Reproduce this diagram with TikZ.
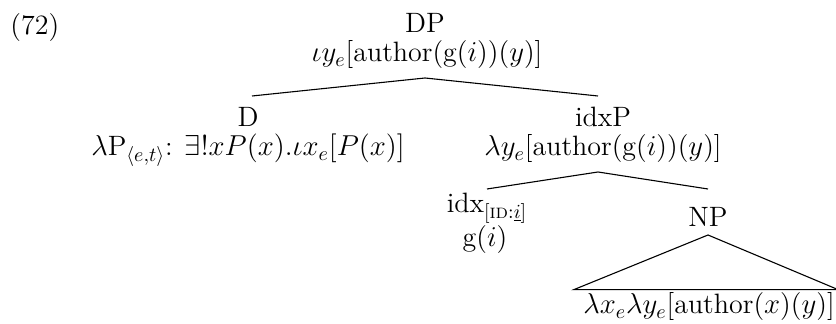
\documentclass[tikz,border=0pt]{standalone}
\usepackage{amsmath}
\usetikzlibrary{calc}
\begin{document}
\begin{tikzpicture}[x=0.5pt,y=-0.5pt,
  lbl/.style={inner sep=0pt, anchor=base, font=\fontsize{14}{16.5}\selectfont},
  edge/.style={line width=0.55pt}]
\useasboundingbox (0,0) rectangle (836,324);
\node[lbl, anchor=base west] (ex) at (10,35) {(72)};
% DP
\node[lbl] (dp) at (425,33) {DP};
\node[lbl] (dpsem) at (427,62) {$\iota y_e$[author(g($i$))($y$)]};
% D
\node[lbl] (d) at (248,127) {D};
\node[lbl] (dsem) at (248,156) {$\lambda$P$_{\langle e,t\rangle}$: $\exists!xP(x).\iota x_e[P(x)]$};
% idxP
\node[lbl] (idxp) at (603,127) {idxP};
\node[lbl] (idxpsem) at (603,156) {$\lambda y_e$[author(g($i$))($y$)]};
% idx
\node[lbl] (idx) at (487,213) {idx$_{\text{\fontsize{10}{12}\selectfont[\textsc{id}:$\underline{i}$]}}$};
\node[lbl] (idxsem) at (485,247) {g($i$)};
% NP
\node[lbl] (np) at (708,227) {NP};
\node[lbl] (npsem) at (709,314) {$\lambda x_e\lambda y_e$[author($x$)($y$)]};
% edges
\draw[edge] ($(d.base)+(4,-31)$) -- ($(dpsem.base)+(-2,16)$) -- ($(idxp.base)+(-5,-31)$);
\draw[edge] ($(idx.base)+(0,-24)$) -- ($(idxpsem.base)+(-5,16)$) -- ($(np.base)+(0,-38)$);
\draw[edge] ($(np.base)+(0,8)$) -- ($(npsem.north west)+(-9,-3)$) -- ($(npsem.north east)+(3,-3)$) -- cycle;
\end{tikzpicture}
\end{document}
